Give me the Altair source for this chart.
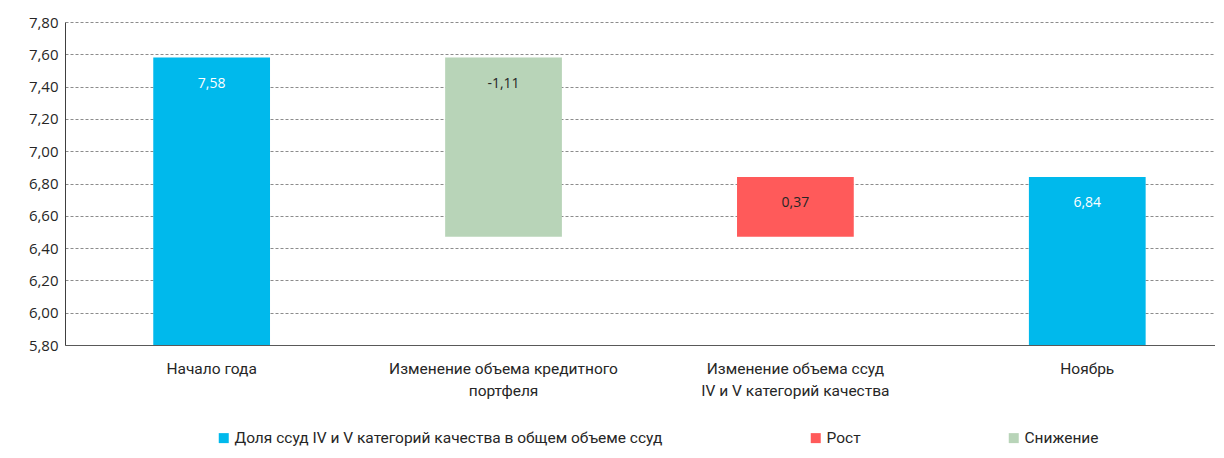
import altair as alt
import pandas as pd

categories = ["Начало года", "Изменение объема кредитного\nпортфеля",
              "Изменение объема ссуд\nIV и V категорий качества", "Ноябрь"]
values = [7.58, -1.11, 0.37, 6.84]
kinds = ["total", "delta", "delta", "total"]
labels = ["7,58", "-1,11", "0,37", "6,84"]
y_ticks = [5.8, 6.0, 6.2, 6.4, 6.6, 6.8, 7.0, 7.2, 7.4, 7.6, 7.8]

series_names = ["Доля ссуд IV и V категорий качества в общем объеме ссуд", "Рост", "Снижение"]
series_colors = ["#00B9EC", "#FF5A5A", "#B8D4B8"]

rows = []
running = 0.0
for cat, v, k, lab in zip(categories, values, kinds, labels):
    if k == "total":
        lo, hi = 0.0, v
        running = v
        s = series_names[0]
        tc = "white"
    else:
        start = running
        running = start + v
        lo, hi = min(start, running), max(start, running)
        s = series_names[1] if v > 0 else series_names[2]
        tc = "#262626"
    rows.append({"cat": cat, "lo": lo, "hi": hi, "series": s, "label": lab, "tcolor": tc})
df = pd.DataFrame(rows)

FONT = "Roboto"

x = alt.X("cat:N", sort=categories, title=None,
          scale=alt.Scale(paddingInner=0.6, paddingOuter=0.27, align=0.56),
          axis=alt.Axis(labelAngle=0, labelExpr="split(datum.label, '\\n')",
                        labelFont=FONT, labelFontSize=15.5, labelColor="#262626",
                        labelPadding=16, ticks=False, domainColor="#595959",
                        labelLineHeight=22, labelLimit=400))

y_axis = alt.Axis(values=y_ticks,
                  labelExpr="replace(format(datum.value, '.2f'), '.', ',')",
                  labelFont="Open Sans", labelFontSize=15, labelColor="#262626",
                  labelOverlap=False,
                  ticks=False, domainColor="#404040", gridColor="#8c8c8c",
                  gridDash=[3, 2], labelPadding=7, title=None)
y_scale = alt.Scale(domain=[5.8, 7.8], zero=False, nice=False)

bars = alt.Chart(df).mark_bar(clip=True).encode(
    x=x,
    y=alt.Y("hi:Q", scale=y_scale, axis=y_axis),
    y2="lo:Q",
    color=alt.Color("series:N", scale=alt.Scale(domain=series_names, range=series_colors),
                    legend=alt.Legend(title=None, orient="none", legendX=151, legendY=408,
                                      direction="horizontal", symbolType="square",
                                      symbolSize=100, symbolStrokeWidth=0,
                                      labelFont=FONT, labelFontSize=15.5, labelColor="#262626",
                                      columnPadding=145, labelOffset=3, labelLimit=600)),
)

text = alt.Chart(df).mark_text(dy=26, font="Open Sans", fontSize=14).encode(
    x=alt.X("cat:N", sort=categories),
    y=alt.Y("hi:Q", scale=y_scale, axis=y_axis),
    text="label:N",
    color=alt.Color("tcolor:N", scale=None),
)

chart = (bars + text).properties(
    width=1150, height=323,
    autosize=alt.AutoSizeParams(type="none"),
    padding={"left": 57, "top": 14, "right": 0, "bottom": 105},
).configure_view(stroke=None).configure_axisY(domain=True).configure_axisX(grid=False)

chart.save("out.html", embed_options={"renderer": "svg", "actions": False})
